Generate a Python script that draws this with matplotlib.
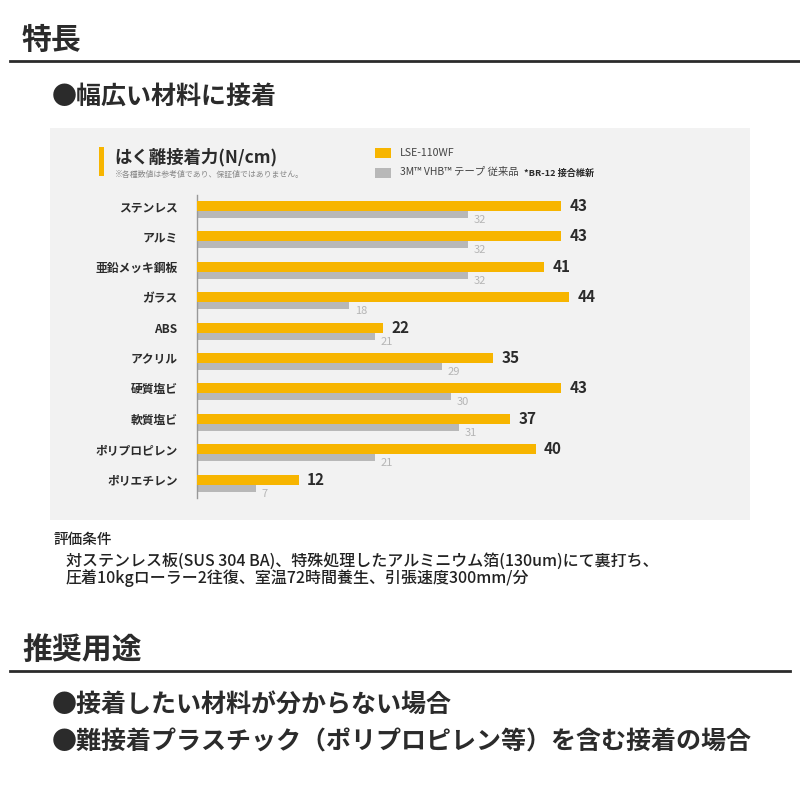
import matplotlib
matplotlib.use('Agg')
from matplotlib import pyplot as plt
from matplotlib.patches import Rectangle
from matplotlib.lines import Line2D

plt.rcParams['font.family'] = ['Noto Sans CJK JP', 'DejaVu Sans']

materials = ['ステンレス', 'アルミ', '亜鉛メッキ鋼板', 'ガラス', 'ABS',
             'アクリル', '硬質塩ビ', '軟質塩ビ', 'ポリプロピレン', 'ポリエチレン']
lse_values = [43, 43, 41, 44, 22, 35, 43, 37, 40, 12]
vhb_values = [32, 32, 32, 18, 21, 29, 30, 31, 21, 7]

ORANGE = '#f7b500'
GRAY = '#b8b8b8'
DARK = '#2b2b2b'

W = H = 800
fig = plt.figure(figsize=(8, 8), dpi=100)


def px(x, y):
    # pixel coords (origin top-left) -> figure fraction
    return x / W, 1 - y / H


def ftext(x, y, s, **kw):
    fx, fy = px(x, y)
    fig.text(fx, fy, s, **kw)


def hline(x0, x1, y, lw=2, color=DARK):
    a, b = px(x0, y)
    c, _ = px(x1, y)
    fig.add_artist(Line2D([a, c], [b, b], lw=lw, color=color, transform=fig.transFigure))


def rect(x0, y0, x1, y1, color):
    fx, fy = px(x0, y1)
    fig.add_artist(Rectangle((fx, fy), (x1 - x0) / W, (y1 - y0) / H,
                             transform=fig.transFigure, color=color, lw=0, zorder=0))


# headings
ftext(22, 40, '特長', fontsize=21.5, weight='bold', color=DARK, va='center')
hline(10, 800, 61)
ftext(52, 97, '●幅広い材料に接着', fontsize=18, weight='bold', color=DARK, va='center')

# chart panel
rect(50, 128, 750, 520, '#f2f2f2')
rect(99, 147, 104, 176, ORANGE)
ftext(114, 157, 'はく離接着力(N/cm)', fontsize=12.5, weight='bold', color=DARK, va='center')
ftext(115, 174, '※各種数値は参考値であり、保証値ではありません。', fontsize=5.7, color='#888888', va='center')
rect(375, 148, 391, 158, ORANGE)
ftext(400, 153, 'LSE-110WF', fontsize=7.6, color='#444444', va='center')
rect(375, 168, 391, 178, GRAY)
ftext(400, 172, '3M™ VHB™ テープ 従来品', fontsize=7.5, color='#444444', va='center')
ftext(524, 173, '*BR-12 接合維新', fontsize=6.6, weight='bold', color=DARK, va='center')

# bar axes: x 0 at px 197, 8.465 px per unit
x_left, x_right = 197, 197 + 8.465 * 60
y_top, y_bot = 190, 500
fx0, fy0 = px(x_left, y_bot)
ax = fig.add_axes([fx0, fy0, (x_right - x_left) / W, (y_bot - y_top) / H])
ax.patch.set_alpha(0)
ax.set_xlim(0, 60)
step = 30.4
ax.set_ylim(-0.526 + (y_bot - y_top) / step, -0.526)

pos = list(range(len(materials)))
gpos = [p + 8.5 / step for p in pos]
ax.barh(pos, lse_values, height=10 / step, color=ORANGE, zorder=3)
ax.barh(gpos, vhb_values, height=7 / step, color=GRAY, zorder=2)

for p, v in zip(pos, lse_values):
    ax.annotate(str(v), (v, p), xytext=(6, 0), textcoords='offset points',
                fontsize=11, weight='bold', color=DARK, va='center', ha='left')
for p, v in zip(gpos, vhb_values):
    ax.annotate(str(v), (v, p), xytext=(4, -4), textcoords='offset points',
                fontsize=8, color='#b5b5b5', va='center', ha='left')

ax.set_yticks(pos)
ax.set_yticklabels(materials, fontsize=8.5, weight='bold', color=DARK)
ax.tick_params(axis='y', length=0, pad=14)
ax.set_xticks([])
for s in ['top', 'right', 'bottom']:
    ax.spines[s].set_visible(False)
ax.spines['left'].set_color('#999999')
ax.spines['left'].set_linewidth(1)
ax.spines['left'].set_bounds(-0.36, 9.62)

# conditions
ftext(53, 540, '評価条件', fontsize=10.5, weight='medium', color='#222222', va='center')
ftext(66, 561, '対ステンレス板(SUS 304 BA)、特殊処理したアルミニウム箔(130um)にて裏打ち、',
      fontsize=11.5, weight='medium', color='#222222', va='center')
ftext(66, 578, '圧着10kgローラー2往復、室温72時間養生、引張速度300mm/分',
      fontsize=11.5, weight='medium', color='#222222', va='center')

# second section
ftext(22, 650, '推奨用途', fontsize=21.5, weight='bold', color=DARK, va='center')
hline(10, 790, 671)
ftext(52, 705, '●接着したい材料が分からない場合', fontsize=18, weight='bold', color=DARK, va='center')
ftext(52, 742, '●難接着プラスチック（ポリプロピレン等）を含む接着の場合', fontsize=18,
      weight='bold', color=DARK, va='center')

fig.savefig('out.png', dpi=100, facecolor='white')
